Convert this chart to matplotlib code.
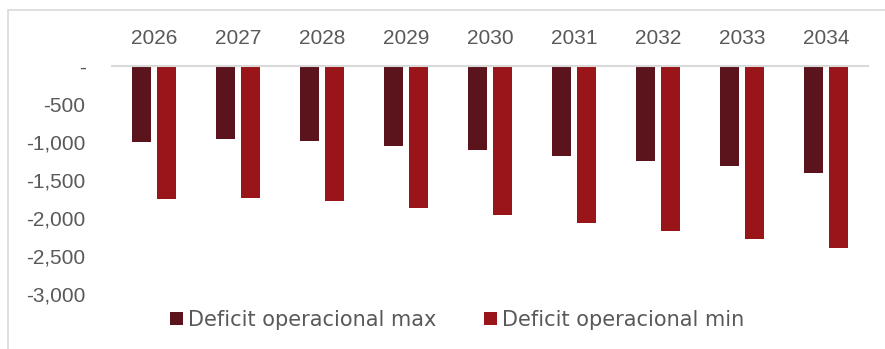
import matplotlib.pyplot as plt
import numpy as np
from matplotlib.patches import Rectangle
from matplotlib.ticker import FuncFormatter

# 数据
years = ['2026', '2027', '2028', '2029', '2030', '2031', '2032', '2033', '2034']
deficit_max = [-1000, -960, -980, -1045, -1105, -1180, -1250, -1320, -1410]
deficit_min = [-1745, -1735, -1775, -1870, -1965, -2065, -2165, -2275, -2395]

plt.rcParams['font.family'] = ['Liberation Sans', 'DejaVu Sans']
text_color = '#595959'

fig = plt.figure(figsize=(8.85, 3.49), dpi=100)
ax = fig.add_axes([112 / 885, 1 - 294 / 349, 756 / 885, (294 - 66.3) / 349])

# 外框
fig.patches.append(Rectangle((8 / 885, -0.1), 1.2, 1 - 10 / 349 + 0.1, transform=fig.transFigure,
                             fill=False, edgecolor='#D9D9D9', linewidth=1.2))

x = np.arange(len(years))
w = 0.226
ax.bar(x - 0.143, deficit_max, w, color='#5C141C', label='Deficit operacional max')
ax.bar(x + 0.143, deficit_min, w, color='#9A1519', label='Deficit operacional min')

ax.set_xlim(-0.5, len(years) - 0.5)
ax.set_ylim(-3000, 0)
ax.set_yticks(np.arange(-3000, 1, 500))
ax.yaxis.set_major_formatter(FuncFormatter(lambda v, p: '-' if v == 0 else f'{v:,.0f}'))

ax.set_xticks(x)
ax.set_xticklabels(years)
ax.xaxis.tick_top()
ax.tick_params(axis='x', length=0, pad=13, labelsize=15, colors=text_color)
ax.tick_params(axis='y', length=0, pad=19, labelsize=15, colors=text_color)

for s in ['left', 'right', 'bottom']:
    ax.spines[s].set_visible(False)
ax.spines['top'].set_color('#D9D9D9')
ax.spines['top'].set_linewidth(1.5)

leg = fig.legend(loc='center', bbox_to_anchor=(457 / 885, 1 - 320 / 349), ncol=2, frameon=False,
                 prop={'family': 'DejaVu Sans', 'size': 15}, handlelength=0.6, handleheight=0.6,
                 handletextpad=0.25, columnspacing=2.3)
for t in leg.get_texts():
    t.set_color(text_color)

fig.savefig('out.png', dpi=100)
